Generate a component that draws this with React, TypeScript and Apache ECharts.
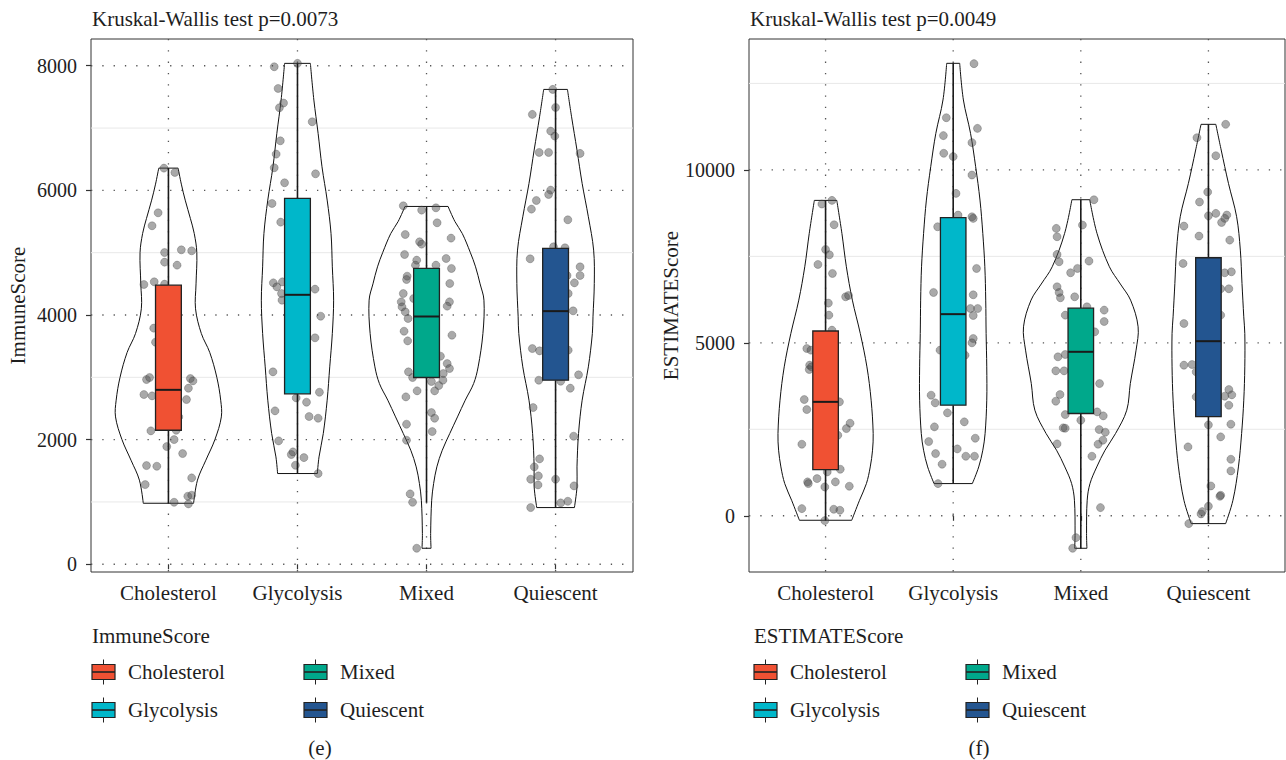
import React, { useEffect, useRef } from 'react';
import * as echarts from 'echarts';

const FONT = 'Liberation Serif, DejaVu Serif, serif';
const TXT = '#1e1e1e';

const categories = ['Cholesterol', 'Glycolysis', 'Mixed', 'Quiescent'];
const colors = ['#F05133', '#00B7CA', '#00A88B', '#235590'];

const immuneTitle = 'Kruskal-Wallis test p=0.0073';
const estimateTitle = 'Kruskal-Wallis test p=0.0049';

const immuneTicks = [0, 2000, 4000, 6000, 8000];
const immuneMinor = [1000, 3000, 5000, 7000];
const estimateTicks = [0, 5000, 10000];
const estimateMinor = [2500, 7500, 12500];

// box stats: [lower whisker, Q1, median, Q3, upper whisker]
const immuneBox = [
  [979, 2151, 2799, 4479, 6357],
  [1456, 2735, 4324, 5870, 8038],
  [990, 2997, 3976, 4747, 5742],
  [910, 2954, 4062, 5068, 7620],
];
const estimateBox = [
  [-130, 1336, 3293, 5342, 9118],
  [930, 3197, 5829, 8617, 13081],
  [-940, 2956, 4740, 6003, 9137],
  [-227, 2869, 5047, 7459, 11317],
];

// violin outlines: [value, half width in category units], top to bottom
const immuneViolinChol = [[6357, 0.075], [6100, 0.1], [5843, 0.13], [5550, 0.17], [5308, 0.2], [5000, 0.22], [4500, 0.214], [4100, 0.21], [3703, 0.255], [3400, 0.32], [3000, 0.375], [2633, 0.405], [2365, 0.41], [2000, 0.36], [1670, 0.29], [1350, 0.225], [979, 0.195]];
const immuneViolinGly = [[8038, 0.1], [7449, 0.127], [6914, 0.16], [6379, 0.19], [5844, 0.23], [5308, 0.26], [4773, 0.27], [4238, 0.28], [3703, 0.27], [3168, 0.25], [2633, 0.23], [2098, 0.2], [1723, 0.167], [1456, 0.154]];
const immuneViolinMixed = [[5742, 0.167], [5500, 0.22], [5308, 0.277], [5000, 0.34], [4773, 0.38], [4500, 0.415], [4238, 0.445], [3703, 0.437], [3168, 0.4], [2900, 0.365], [2633, 0.3], [2365, 0.24], [2098, 0.18], [1830, 0.122], [1563, 0.08], [1295, 0.055], [1027, 0.04], [492, 0.032], [257, 0.035]];
const immuneViolinQui = [[7620, 0.092], [7181, 0.124], [6646, 0.166], [6111, 0.206], [5576, 0.254], [5041, 0.295], [4506, 0.3], [3971, 0.29], [3703, 0.285], [3168, 0.254], [2633, 0.206], [2098, 0.178], [1563, 0.166], [1241, 0.166], [910, 0.146]];

const estimateViolinChol = [[9118, 0.088], [8163, 0.128], [7199, 0.163], [6234, 0.21], [5270, 0.272], [4305, 0.324], [3341, 0.357], [2377, 0.373], [1895, 0.368], [1412, 0.35], [930, 0.32], [448, 0.266], [-130, 0.205]];
const estimateViolinGly = [[13081, 0.051], [12021, 0.08], [11056, 0.136], [10092, 0.176], [9127, 0.21], [8163, 0.232], [7199, 0.248], [6234, 0.255], [5270, 0.258], [4305, 0.263], [3341, 0.263], [2377, 0.25], [1895, 0.232], [1412, 0.2], [930, 0.15]];
const estimateViolinMixed = [[9137, 0.07], [8163, 0.127], [7199, 0.224], [6700, 0.31], [6234, 0.39], [5463, 0.449], [4788, 0.433], [3823, 0.388], [3052, 0.36], [2377, 0.272], [1895, 0.19], [1412, 0.125], [930, 0.072], [448, 0.05], [-516, 0.045], [-940, 0.048]];
const estimateViolinQui = [[11317, 0.058], [10574, 0.1], [9610, 0.157], [8645, 0.221], [7681, 0.25], [6716, 0.263], [5752, 0.277], [5270, 0.285], [4305, 0.285], [3341, 0.277], [2377, 0.26], [1412, 0.235], [448, 0.192], [-227, 0.135]];

// jittered points: [horizontal jitter in category units, value]
const immunePtsChol = [[-0.035, 6357], [0.05, 6288], [-0.08, 5640], [-0.127, 5432], [-0.03, 5003], [0.1, 5046], [0.18, 5030], [-0.03, 4848], [0.067, 4800], [-0.19, 4490], [-0.11, 4533], [-0.03, 4495], [-0.114, 3789], [-0.1, 3564], [-0.17, 2965], [-0.146, 2997], [-0.19, 2724], [-0.127, 2702], [0.17, 2981], [0.19, 2943], [0.155, 2826], [0.14, 2644], [0.08, 2365], [-0.136, 2141], [0.06, 2151], [-0.013, 1889], [0.044, 2001], [0.11, 1777], [-0.17, 1584], [-0.09, 1573], [-0.18, 1279], [0.18, 1386], [0.15, 1092], [0.18, 1108], [0.044, 995], [0.155, 969]];
const immunePtsGly = [[-0.18, 7984], [0, 8038], [-0.15, 7636], [-0.108, 7401], [-0.14, 7326], [0.114, 7101], [-0.133, 6796], [-0.165, 6582], [-0.18, 6363], [0.14, 6266], [-0.1, 6122], [-0.197, 5790], [-0.13, 5490], [-0.187, 4516], [-0.16, 4452], [-0.117, 4532], [-0.124, 4345], [0.136, 4415], [-0.12, 4238], [0.18, 3981], [0.136, 3634], [-0.19, 3088], [-0.174, 2462], [-0.01, 2670], [0.17, 2761], [0.07, 2601], [0.09, 2371], [0.16, 2344], [-0.146, 1980], [-0.035, 1803], [-0.048, 1761], [0.05, 1712], [-0.016, 1589], [0.16, 1456]];
const immunePtsMixed = [[-0.18, 5753], [-0.038, 5683], [0.073, 5720], [0.082, 5480], [-0.165, 5292], [0.19, 5234], [-0.054, 5175], [-0.038, 5137], [-0.17, 4971], [-0.076, 4880], [0.152, 4907], [-0.086, 4800], [0.073, 4800], [0.193, 4747], [-0.15, 4623], [-0.155, 4570], [0.18, 4506], [-0.18, 4345], [-0.196, 4211], [0.178, 4211], [0.16, 4142], [-0.1, 4265], [-0.19, 4131], [-0.165, 4051], [-0.143, 3944], [-0.174, 3740], [0.197, 3676], [-0.146, 3585], [0.108, 3339], [0.16, 3221], [0.178, 3141], [-0.14, 3088], [0.13, 3061], [-0.108, 2997], [0.038, 2933], [0.127, 2954], [0.095, 2868], [0.063, 2783], [-0.073, 2783], [-0.16, 2686], [0.038, 2435], [0.063, 2344], [-0.155, 2248], [0.044, 2130], [-0.155, 1991], [-0.127, 1129], [-0.108, 995], [-0.076, 257]];
const immunePtsQui = [[-0.022, 7620], [0, 7331], [-0.18, 7219], [-0.038, 6951], [-0.006, 6871], [-0.127, 6609], [-0.054, 6609], [0.19, 6593], [-0.038, 6004], [-0.054, 5935], [-0.149, 5838], [-0.187, 5699], [0.095, 5528], [-0.016, 5095], [0.073, 5079], [-0.197, 4902], [0.19, 4773], [0.19, 4634], [0.089, 4634], [0.146, 4516], [0.098, 4345], [0.136, 4067], [-0.18, 3462], [-0.124, 3425], [0.098, 3436], [-0.13, 2954], [0.04, 2938], [0.178, 3040], [0.114, 2826], [-0.174, 2515], [0.14, 2055], [-0.124, 1691], [-0.165, 1563], [-0.133, 1418], [-0.193, 1365], [-0.136, 1274], [0, 1365], [0.143, 1258], [-0.193, 910], [0.04, 985], [0.095, 1011]];

const estimatePtsChol = [[-0.029, 9012], [0.05, 9118], [0.067, 8414], [0, 7700], [0.03, 7546], [-0.06, 7266], [0.054, 7006], [0.157, 6331], [0.18, 6370], [0.022, 6148], [0.026, 5800], [0.05, 5366], [-0.147, 4836], [-0.115, 4788], [-0.125, 4354], [-0.128, 4229], [-0.11, 4306], [-0.167, 3361], [-0.147, 3071], [0.109, 3293], [0.192, 2676], [0.163, 2521], [0.096, 2328], [-0.186, 2068], [0.115, 1345], [0.013, 1268], [-0.141, 979], [-0.135, 931], [-0.067, 1075], [0.077, 979], [0.186, 854], [-0.006, 834], [-0.186, 207], [0.064, 188], [0.112, 159], [-0.006, -140]];
const estimatePtsGly = [[0.163, 13071], [-0.054, 11509], [0.19, 11200], [-0.077, 10991], [0.147, 10788], [-0.074, 10480], [0, 10384], [0.147, 9851], [0.022, 9320], [0.038, 8693], [0.147, 8645], [0.157, 8597], [-0.122, 8356], [0.183, 7150], [-0.154, 6456], [0.157, 6389], [0.135, 5993], [0.192, 5993], [0.157, 5791], [0.157, 5126], [0.147, 5000], [-0.103, 4788], [0.093, 4643], [-0.173, 3486], [-0.141, 3264], [-0.045, 2975], [-0.147, 2570], [0.087, 2715], [-0.192, 2146], [0.173, 2242], [0.032, 1933], [-0.138, 1798], [0.099, 1721], [0.167, 1721], [-0.087, 1490], [-0.119, 930]];
const estimatePtsMixed = [[0.103, 9137], [0.013, 8404], [-0.192, 8308], [-0.186, 8067], [-0.186, 7556], [-0.17, 7344], [0.064, 7363], [-0.026, 7151], [-0.08, 7026], [-0.186, 6621], [-0.17, 6457], [-0.16, 6303], [-0.048, 6331], [0.048, 6042], [0.183, 5946], [-0.122, 5800], [0.183, 5617], [0.109, 5318], [-0.179, 4595], [-0.122, 4663], [-0.196, 4190], [-0.131, 4190], [0.147, 3823], [-0.163, 3505], [-0.196, 3312], [-0.122, 2926], [0.128, 3003], [0.176, 2888], [0, 2763], [-0.138, 2541], [-0.122, 2531], [0.144, 2493], [0.192, 2416], [0.173, 2185], [0.135, 2069], [-0.186, 2078], [0.087, 1721], [0.154, 236], [-0.038, -632], [-0.064, -940]];
const estimatePtsQui = [[0.135, 11317], [-0.09, 10931], [0.058, 10410], [-0.006, 9359], [-0.07, 9070], [0.058, 8742], [0, 8674], [0.144, 8694], [0.128, 8597], [0.103, 8481], [-0.192, 8375], [-0.074, 8086], [0.167, 7970], [-0.199, 7295], [0.128, 7025], [0.18, 7054], [0.16, 6563], [0.096, 6563], [0.096, 5800], [-0.192, 5559], [-0.192, 4354], [-0.128, 4373], [-0.096, 4161], [0.16, 3650], [0.128, 3457], [0.183, 3496], [0.16, 3196], [-0.096, 3438], [0, 2628], [0.176, 2647], [0.096, 2281], [-0.16, 1991], [0.176, 1634], [0.176, 1296], [0.019, 862], [0.096, 592], [0.09, 563], [0, 275], [-0.048, 120], [-0.058, 53], [-0.154, -227]];

const panels = [
  {
    name: 'ImmuneScore', title: immuneTitle, caption: '(e)',
    grid: { left: 91, top: 39, width: 542, height: 533 },
    yMin: -124, yMax: 8429, nameGap: 63,
    ticks: immuneTicks, minor: immuneMinor, box: immuneBox,
    violins: [immuneViolinChol, immuneViolinGly, immuneViolinMixed, immuneViolinQui],
    points: [immunePtsChol, immunePtsGly, immunePtsMixed, immunePtsQui],
    legendX: 92, captionX: 320,
  },
  {
    name: 'ESTIMATEScore', title: estimateTitle, caption: '(f)',
    grid: { left: 749, top: 39, width: 536, height: 533 },
    yMin: -1626, yMax: 13784, nameGap: 66,
    ticks: estimateTicks, minor: estimateMinor, box: estimateBox,
    violins: [estimateViolinChol, estimateViolinGly, estimateViolinMixed, estimateViolinQui],
    points: [estimatePtsChol, estimatePtsGly, estimatePtsMixed, estimatePtsQui],
    legendX: 754, captionX: 979,
  },
];

const catValues = categories.map((_, i) => i + 1);

function buildOption() {
  const grid: any[] = [];
  const xAxis: any[] = [];
  const yAxis: any[] = [];
  const series: any[] = [];
  const graphic: any[] = [];
  const textBase = { fontFamily: FONT, fontSize: 21, fill: TXT };

  panels.forEach((p, pi) => {
    grid.push({ ...p.grid, show: true, borderColor: '#333', borderWidth: 1, backgroundColor: 'transparent', containLabel: false });
    xAxis.push({
      type: 'value', gridIndex: pi, min: 0.4, max: 4.6,
      axisLine: { show: false },
      axisTick: { show: true, customValues: catValues, length: 5, lineStyle: { color: '#333', width: 1.2 } },
      axisLabel: {
        customValues: catValues, margin: 10,
        formatter: (v: number) => categories[Math.round(v) - 1] ?? '',
        fontFamily: FONT, fontSize: 21, color: TXT,
      },
      splitLine: { show: false },
    });
    yAxis.push({
      type: 'value', gridIndex: pi, min: p.yMin, max: p.yMax,
      name: p.name, nameLocation: 'middle', nameGap: p.nameGap,
      nameTextStyle: { fontFamily: FONT, fontSize: 21, color: TXT },
      axisLine: { show: false },
      axisTick: { show: true, customValues: p.ticks, length: 5, lineStyle: { color: '#333', width: 1.2 } },
      axisLabel: { customValues: p.ticks, margin: 14, fontFamily: FONT, fontSize: 20, color: TXT, formatter: (v: number) => String(v) },
      splitLine: { show: false },
    });

    // background grid lines
    series.push({
      type: 'custom', xAxisIndex: pi, yAxisIndex: pi, z: 1, silent: true,
      data: [[1, 0]],
      renderItem: (params: any, api: any) => {
        const cs = params.coordSys;
        const children: any[] = [];
        p.minor.forEach((v) => {
          const y = api.coord([1, v])[1];
          children.push({ type: 'line', shape: { x1: cs.x, y1: y, x2: cs.x + cs.width, y2: y }, style: { stroke: '#e8e8e8', lineWidth: 1 } });
        });
        p.ticks.forEach((v) => {
          const y = api.coord([1, v])[1];
          children.push({ type: 'line', shape: { x1: cs.x, y1: y, x2: cs.x + cs.width, y2: y }, style: { stroke: '#555', lineWidth: 1.3, lineDash: [1.3, 10] } });
        });
        catValues.forEach((c) => {
          const x = api.coord([c, 0])[0];
          children.push({ type: 'line', shape: { x1: x, y1: cs.y, x2: x, y2: cs.y + cs.height }, style: { stroke: '#555', lineWidth: 1.3, lineDash: [1.3, 10] } });
        });
        return { type: 'group', children };
      },
    });

    // violins
    series.push({
      type: 'custom', xAxisIndex: pi, yAxisIndex: pi, z: 2, silent: true,
      data: catValues.map((c, i) => [c, p.box[i][2]]),
      renderItem: (params: any, api: any) => {
        const i = params.dataIndex;
        const prof = p.violins[i];
        const cx = i + 1;
        const right = prof.map(([v, hw]) => api.coord([cx + hw, v]));
        const left = prof.map(([v, hw]) => api.coord([cx - hw, v]));
        const st = { stroke: '#111', lineWidth: 1, fill: 'none' };
        const n = prof.length - 1;
        return {
          type: 'group',
          children: [
            { type: 'polyline', shape: { points: right, smooth: 0.35 }, style: st },
            { type: 'polyline', shape: { points: left, smooth: 0.35 }, style: st },
            { type: 'line', shape: { x1: left[0][0], y1: left[0][1], x2: right[0][0], y2: right[0][1] }, style: st },
            { type: 'line', shape: { x1: left[n][0], y1: left[n][1], x2: right[n][0], y2: right[n][1] }, style: st },
          ],
        };
      },
    });

    // jittered points
    series.push({
      type: 'scatter', xAxisIndex: pi, yAxisIndex: pi, z: 3, silent: true,
      symbol: 'circle', symbolSize: 8,
      itemStyle: { color: 'rgba(80,80,80,0.62)', borderColor: 'rgba(40,40,40,0.55)', borderWidth: 0.6 },
      data: p.points.flatMap((arr, i) => arr.map(([dx, v]) => [i + 1 + dx, v])),
    });

    // boxplots
    series.push({
      type: 'custom', xAxisIndex: pi, yAxisIndex: pi, z: 4, silent: true,
      data: catValues.map((c, i) => [c, p.box[i][2]]),
      renderItem: (params: any, api: any) => {
        const i = params.dataIndex;
        const [mn, q1, md, q3, mx] = p.box[i];
        const cx = i + 1;
        const hw = 0.1;
        const pMax = api.coord([cx, mx]);
        const pQ3 = api.coord([cx, q3]);
        const pQ1 = api.coord([cx, q1]);
        const pMin = api.coord([cx, mn]);
        const tl = api.coord([cx - hw, q3]);
        const br = api.coord([cx + hw, q1]);
        const mL = api.coord([cx - hw, md]);
        const mR = api.coord([cx + hw, md]);
        const ln = { stroke: '#1a1a1a', lineWidth: 1.6 };
        return {
          type: 'group',
          children: [
            { type: 'line', shape: { x1: pMax[0], y1: pMax[1], x2: pQ3[0], y2: pQ3[1] }, style: ln },
            { type: 'line', shape: { x1: pQ1[0], y1: pQ1[1], x2: pMin[0], y2: pMin[1] }, style: ln },
            { type: 'rect', shape: { x: tl[0], y: tl[1], width: br[0] - tl[0], height: br[1] - tl[1] }, style: { fill: colors[i], stroke: '#222', lineWidth: 1.3 } },
            { type: 'line', shape: { x1: mL[0], y1: mL[1], x2: mR[0], y2: mR[1] }, style: { stroke: '#1a1a1a', lineWidth: 2 } },
          ],
        };
      },
    });

    // title
    graphic.push({ type: 'text', x: p.grid.left + 1, y: 19, style: { ...textBase, text: p.title, verticalAlign: 'middle' } });

    // legend
    const lx = p.legendX;
    graphic.push({ type: 'text', x: lx, y: 636, style: { ...textBase, text: p.name, verticalAlign: 'middle' } });
    categories.forEach((c, i) => {
      const col = Math.floor(i / 2);
      const row = i % 2;
      const kx = lx + col * 212;
      const ky = row === 0 ? 672 : 710;
      graphic.push({ type: 'line', shape: { x1: kx + 11.5, y1: ky - 12.5, x2: kx + 11.5, y2: ky + 12.5 }, style: { stroke: '#222', lineWidth: 1 } });
      graphic.push({ type: 'rect', shape: { x: kx, y: ky - 7.5, width: 23, height: 15 }, style: { fill: colors[i], stroke: '#222', lineWidth: 1.2 } });
      graphic.push({ type: 'line', shape: { x1: kx, y1: ky, x2: kx + 23, y2: ky }, style: { stroke: '#222', lineWidth: 1.6 } });
      graphic.push({ type: 'text', x: kx + 36, y: ky, style: { ...textBase, text: c, verticalAlign: 'middle' } });
    });

    // caption
    graphic.push({ type: 'text', x: p.captionX, y: 748, style: { ...textBase, text: p.caption, align: 'center', verticalAlign: 'middle' } });
  });

  return { animation: false, backgroundColor: '#fff', grid, xAxis, yAxis, series, graphic };
}

export default function App() {
  const ref = useRef<HTMLDivElement>(null);
  useEffect(() => {
    const chart = echarts.init(ref.current!, null, { renderer: 'svg' });
    chart.setOption(buildOption() as any);
    return () => chart.dispose();
  }, []);
  return <div ref={ref} style={{ position: 'fixed', left: 0, top: 0, width: 1286, height: 760, background: '#fff' }} />;
}
